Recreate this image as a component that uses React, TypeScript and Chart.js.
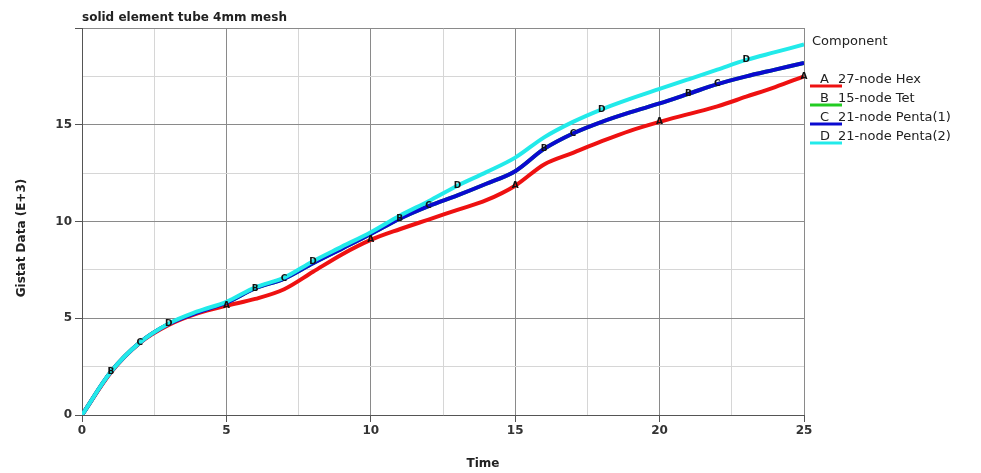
import React, { useEffect, useRef } from "react";
import { Chart, registerables } from "chart.js";

Chart.register(...registerables);

const chartTitle = "solid element tube 4mm mesh";
const xTitle = "Time";
const yTitle = "Gistat Data (E+3)";
const legendTitle = "Component";

const timeSteps = [0, 1, 2, 3, 4, 5, 6, 7, 8, 9, 10, 11, 12, 13, 14, 15, 16, 17, 18, 19, 20, 21, 22, 23, 24, 25];

const seriesNames = ["27-node Hex", "15-node Tet", "21-node Penta(1)", "21-node Penta(2)"];
const seriesLetters = ["A", "B", "C", "D"];
const seriesColors = ["#ee1111", "#22cc22", "#0a0ad0", "#22eaea"];

const hex27 = [0, 2.2, 3.72, 4.65, 5.25, 5.65, 6.0, 6.5, 7.4, 8.3, 9.05, 9.6, 10.1, 10.6, 11.1, 11.85, 12.95, 13.55, 14.15, 14.7, 15.15, 15.55, 15.95, 16.45, 16.95, 17.5];
const tet15 = [0, 2.23, 3.74, 4.7, 5.3, 5.8, 6.55, 7.05, 7.85, 8.6, 9.35, 10.15, 10.8, 11.35, 11.95, 12.6, 13.75, 14.55, 15.15, 15.65, 16.1, 16.6, 17.1, 17.5, 17.85, 18.2];
const penta21a = [0, 2.23, 3.74, 4.7, 5.3, 5.8, 6.55, 7.05, 7.85, 8.6, 9.35, 10.15, 10.8, 11.35, 11.95, 12.6, 13.75, 14.55, 15.15, 15.65, 16.1, 16.6, 17.1, 17.5, 17.85, 18.2];
const penta21b = [0, 2.23, 3.74, 4.72, 5.35, 5.85, 6.6, 7.1, 7.95, 8.7, 9.45, 10.3, 11.05, 11.85, 12.55, 13.3, 14.35, 15.15, 15.8, 16.35, 16.85, 17.35, 17.85, 18.35, 18.75, 19.15];

const seriesValues = [hex27, tet15, penta21a, penta21b];

// time steps where each curve carries its letter label
const labelTimesA = [5, 10, 15, 20, 25];
const labelTimesB = [1, 6, 11, 16, 21];
const labelTimesC = [2, 7, 12, 17, 22];
const labelTimesD = [3, 8, 13, 18, 23];
const labelTimes = [labelTimesA, labelTimesB, labelTimesC, labelTimesD];

const drawOrder = [2, 3, 1, 0];

const FONT = "'DejaVu Sans', sans-serif";

export default function App() {
  const ref = useRef<HTMLCanvasElement | null>(null);

  useEffect(() => {
    if (!ref.current) return;

    const letterPlugin = {
      id: "letters",
      afterDatasetsDraw(chart: any) {
        const ctx = chart.ctx;
        ctx.save();
        ctx.font = `bold 9px ${FONT}`;
        ctx.fillStyle = "#111";
        ctx.textAlign = "center";
        ctx.textBaseline = "middle";
        labelTimes.forEach((times, di) => {
          const meta = chart.getDatasetMeta(di);
          times.forEach((t) => {
            const idx = timeSteps.indexOf(t);
            const el = meta.data[idx];
            if (el) ctx.fillText(seriesLetters[di], el.x, el.y);
          });
        });
        ctx.restore();
      },
    };

    const textPlugin = {
      id: "texts",
      afterDraw(chart: any) {
        const ctx = chart.ctx;
        const area = chart.chartArea;
        ctx.save();
        ctx.fillStyle = "#222";
        ctx.font = `bold 12px ${FONT}`;
        ctx.textAlign = "left";
        ctx.textBaseline = "alphabetic";
        ctx.fillText(chartTitle, area.left, 21);

        ctx.textAlign = "center";
        ctx.textBaseline = "middle";
        ctx.fillText(xTitle, 483, 464);

        ctx.save();
        ctx.translate(22, 238);
        ctx.rotate(-Math.PI / 2);
        ctx.fillText(yTitle, 0, 0);
        ctx.restore();

        // legend
        ctx.font = `13px ${FONT}`;
        ctx.textAlign = "left";
        ctx.fillStyle = "#222";
        ctx.fillText(legendTitle, 812, 42);
        const rows = [80, 99, 118, 137];
        rows.forEach((y, i) => {
          ctx.strokeStyle = seriesColors[i];
          ctx.lineWidth = 3;
          ctx.beginPath();
          ctx.moveTo(810, y + 6);
          ctx.lineTo(842, y + 6);
          ctx.stroke();
          ctx.fillStyle = "#222";
          ctx.font = `13px ${FONT}`;
          ctx.fillText(seriesLetters[i], 820, y);
          ctx.fillText(seriesNames[i], 838, y);
        });
        ctx.restore();
      },
    };

    const gridColor = (c: any) => (c.tick && c.tick.value % 5 === 0 ? "#8a8a8a" : "#d6d6d6");
    const tickColor = (c: any) => (c.tick && c.tick.value % 5 === 0 ? "#555" : "rgba(0,0,0,0)");

    const chart = new Chart(ref.current, {
      type: "line",
      data: {
        datasets: seriesValues.map((vals, i) => ({
          label: seriesNames[i],
          data: timeSteps.map((t, j) => ({ x: t, y: vals[j] })),
          borderColor: seriesColors[i],
          backgroundColor: seriesColors[i],
          borderWidth: 4,
          pointRadius: 0,
          cubicInterpolationMode: "monotone" as const,
          fill: false,
          order: drawOrder[i],
        })),
      },
      options: {
        responsive: false,
        animation: false,
        layout: { padding: { left: 0, top: 28, right: 177, bottom: 0 } },
        plugins: {
          legend: { display: false },
          title: { display: false },
          tooltip: { enabled: false },
        },
        scales: {
          x: {
            type: "linear",
            min: 0,
            max: 25,
            afterFit: (s: any) => {
              s.height = 58;
            },
            ticks: {
              stepSize: 2.5,
              autoSkip: false,
              maxRotation: 0,
              color: "#333",
              font: { family: FONT, size: 12, weight: "bold" },
              padding: 2,
              callback: (v: any) => (Number(v) % 5 === 0 ? String(v) : ""),
            },
            grid: { color: gridColor, tickColor: tickColor, tickLength: 7, lineWidth: 1 },
            border: { color: "#555", width: 1 },
          },
          y: {
            type: "linear",
            min: 0,
            max: 20,
            afterFit: (s: any) => {
              s.width = 82;
            },
            ticks: {
              stepSize: 2.5,
              autoSkip: false,
              color: "#333",
              font: { family: FONT, size: 12, weight: "bold" },
              padding: 3,
              callback: (v: any) => (Number(v) % 5 === 0 && Number(v) < 20 ? String(v) : ""),
            },
            grid: { color: gridColor, tickColor: tickColor, tickLength: 7, lineWidth: 1 },
            border: { color: "#555", width: 1 },
          },
        },
      },
      plugins: [letterPlugin, textPlugin],
    } as any);

    return () => chart.destroy();
  }, []);

  return (
    <div style={{ position: "absolute", left: 0, top: 0, width: 981, height: 473, background: "#fff" }}>
      <canvas ref={ref} width={981} height={473} style={{ width: 981, height: 473, display: "block" }} />
    </div>
  );
}
